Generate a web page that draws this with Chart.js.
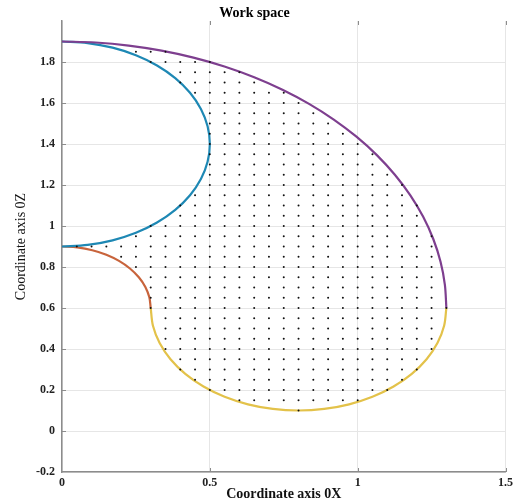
<!DOCTYPE html>
<html><head><meta charset="utf-8">
<script src="https://cdn.jsdelivr.net/npm/chart.js@4"></script>
<style>html,body{margin:0;padding:0;background:#fff}#wrap{width:518px;height:501px;position:relative}</style>
</head><body><div id="wrap"><canvas id="c"></canvas></div>
<script>
// Outer boundary (purple)
const purpleX = [0, 0.1133, 0.2257, 0.3365, 0.4446, 0.5494, 0.65, 0.7457, 0.8356, 0.9192, 0.9959, 1.0649, 1.1258, 1.1782, 1.2216, 1.2557, 1.2803, 1.295, 1.3];
const purpleY = [1.9, 1.895, 1.8803, 1.8557, 1.8216, 1.7782, 1.7258, 1.6649, 1.5959, 1.5192, 1.4356, 1.3457, 1.25, 1.1494, 1.0446, 0.9365, 0.8257, 0.7133, 0.6];
// Upper inner boundary (blue)
const blueX = [0, 0.0868, 0.171, 0.25, 0.3214, 0.383, 0.433, 0.4698, 0.4924, 0.5, 0.4924, 0.4698, 0.433, 0.383, 0.3214, 0.25, 0.171, 0.0868, 0];
const blueY = [1.9, 1.8924, 1.8698, 1.833, 1.783, 1.7214, 1.65, 1.571, 1.4868, 1.4, 1.3132, 1.229, 1.15, 1.0786, 1.017, 0.967, 0.9302, 0.9076, 0.9];
// Lower inner boundary (orange)
const orangeX = [0, 0.0521, 0.1026, 0.15, 0.1928, 0.2298, 0.2598, 0.2819, 0.2954, 0.3];
const orangeY = [0.9, 0.8954, 0.8819, 0.8598, 0.8298, 0.7928, 0.75, 0.7026, 0.6521, 0.6];
// Bottom boundary (yellow)
const yellowX = [0.3, 0.3076, 0.3302, 0.367, 0.417, 0.4786, 0.55, 0.629, 0.7132, 0.8, 0.8868, 0.971, 1.05, 1.1214, 1.183, 1.233, 1.2698, 1.2924, 1.3];
const yellowY = [0.6, 0.5132, 0.429, 0.35, 0.2786, 0.217, 0.167, 0.1302, 0.1076, 0.1, 0.1076, 0.1302, 0.167, 0.217, 0.2786, 0.35, 0.429, 0.5132, 0.6];
// Reachable-point grid rows (row height, first and last dot x)
const dotRowY = [0.10,0.15,0.20,0.25,0.30,0.35,0.40,0.45,0.50,0.55,0.60,0.65,0.70,0.75,0.80,0.85,0.90,0.95,1.00,1.05,1.10,1.15,1.20,1.25,1.30,1.35,1.40,1.45,1.50,1.55,1.60,1.65,1.70,1.75,1.80,1.85];
const dotRowStartX = [0.80,0.60,0.50,0.45,0.40,0.40,0.35,0.35,0.35,0.35,0.30,0.30,0.30,0.30,0.25,0.20,0.05,0.25,0.30,0.40,0.40,0.45,0.50,0.50,0.50,0.50,0.50,0.50,0.50,0.50,0.50,0.45,0.40,0.40,0.30,0.25];
const dotRowEndX = [0.80,1.00,1.10,1.15,1.20,1.20,1.25,1.25,1.25,1.25,1.30,1.25,1.25,1.25,1.25,1.25,1.25,1.25,1.20,1.20,1.20,1.15,1.15,1.10,1.05,1.05,1.00,0.95,0.90,0.85,0.80,0.75,0.65,0.60,0.50,0.35];
const dotStep = 0.05;
// Tick labels
const xTickValues = [0, 0.5, 1, 1.5];
const xTickLabels = ['0', '0.5', '1', '1.5'];
const yTickValues = [-0.2, 0, 0.2, 0.4, 0.6, 0.8, 1, 1.2, 1.4, 1.6, 1.8, 2];
const yTickLabels = ['-0.2', '0', '0.2', '0.4', '0.6', '0.8', '1', '1.2', '1.4', '1.6', '1.8', ''];

const zip = (xs, ys) => xs.map((x, i) => ({x, y: ys[i]}));
const dots = [];
dotRowY.forEach((y, r) => {
  const n = Math.round((dotRowEndX[r] - dotRowStartX[r]) / dotStep);
  for (let i = 0; i <= n; i++) dots.push({x: +(dotRowStartX[r] + i * dotStep).toFixed(3), y});
});

const SERIF = '"Liberation Serif", "Times New Roman", serif';
const labelFor = (vals, labs, v) => {
  const i = vals.findIndex(t => Math.abs(t - v) < 1e-6);
  return i < 0 ? '' : labs[i];
};
const lineDs = (data, color) => ({
  data, showLine: true, borderColor: color, backgroundColor: color, borderWidth: 2.2,
  pointRadius: 0, tension: 0.33, fill: false, order: 1
});

const inwardTicks = {
  id: 'inwardTicks',
  afterDraw(chart) {
    const {ctx, chartArea: a, scales: {x, y}} = chart;
    ctx.save();
    ctx.strokeStyle = '#8c8c8c';
    ctx.lineWidth = 1;
    ctx.beginPath();
    xTickValues.slice(1).forEach(v => {
      const px = Math.round(x.getPixelForValue(v)) + 0.5;
      ctx.moveTo(px, a.bottom); ctx.lineTo(px, a.bottom - 4);
      ctx.moveTo(px, a.top); ctx.lineTo(px, a.top + 4);
    });
    yTickValues.slice(1, -1).forEach(v => {
      const py = Math.round(y.getPixelForValue(v)) + 0.5;
      ctx.moveTo(a.left, py); ctx.lineTo(a.left + 4, py);
    });
    ctx.stroke();
    ctx.restore();
  }
};

new Chart(document.getElementById('c'), {
  type: 'scatter',
  data: {
    datasets: [
      {data: dots, pointRadius: 1, pointBackgroundColor: '#111', pointBorderWidth: 0, showLine: false, order: 0},
      lineDs(zip(purpleX, purpleY), '#7E3F8F'),
      lineDs(zip(blueX, blueY), '#1E88B4'),
      lineDs(zip(orangeX, orangeY), '#C8643C'),
      lineDs(zip(yellowX, yellowY), '#E3C24A')
    ]
  },
  options: {
    responsive: true, maintainAspectRatio: false, animation: false,
    layout: {padding: {left: 0, right: 9, top: 0, bottom: 0}},
    plugins: {
      legend: {display: false}, tooltip: {enabled: false},
      title: {display: true, text: 'Work space', color: '#000',
        font: {family: SERIF, size: 14, weight: 'bold', lineHeight: 1}, padding: {top: 6, bottom: 1}}
    },
    scales: {
      x: {
        type: 'linear', min: 0, max: 1.5,
        afterBuildTicks: s => { s.ticks = xTickValues.map(v => ({value: v})); },
        afterFit: s => { s.height = 29; },
        ticks: {callback: v => labelFor(xTickValues, xTickLabels, v), color: '#222', padding: 5,
          font: {family: SERIF, size: 12, weight: 'bold', lineHeight: 1}, maxRotation: 0},
        grid: {color: '#e6e6e6', drawTicks: false, lineWidth: 1},
        border: {color: '#8c8c8c', width: 1.5},
        title: {display: true, text: 'Coordinate axis 0X', color: '#111',
          font: {family: SERIF, size: 14, weight: 'bold', lineHeight: 1}, padding: {top: 0, bottom: 0}}
      },
      y: {
        type: 'linear', min: -0.2, max: 2,
        afterBuildTicks: s => { s.ticks = yTickValues.map(v => ({value: v})); },
        afterFit: s => { s.width = 62; },
        ticks: {callback: v => labelFor(yTickValues, yTickLabels, v), color: '#222', padding: 7,
          font: {family: SERIF, size: 12, weight: 'bold', lineHeight: 1}},
        grid: {color: c => (c.tick && Math.abs(c.tick.value - 2) < 1e-6) ? 'rgba(0,0,0,0)' : '#e6e6e6', drawTicks: false, lineWidth: 1},
        border: {color: '#8c8c8c', width: 1.5},
        title: {display: true, text: 'Coordinate axis 0Z', color: '#111',
          font: {family: SERIF, size: 14, weight: 'normal', lineHeight: 1}, padding: {top: 14, bottom: 0}}
      }
    }
  },
  plugins: [inwardTicks]
});
</script>
</body></html>
